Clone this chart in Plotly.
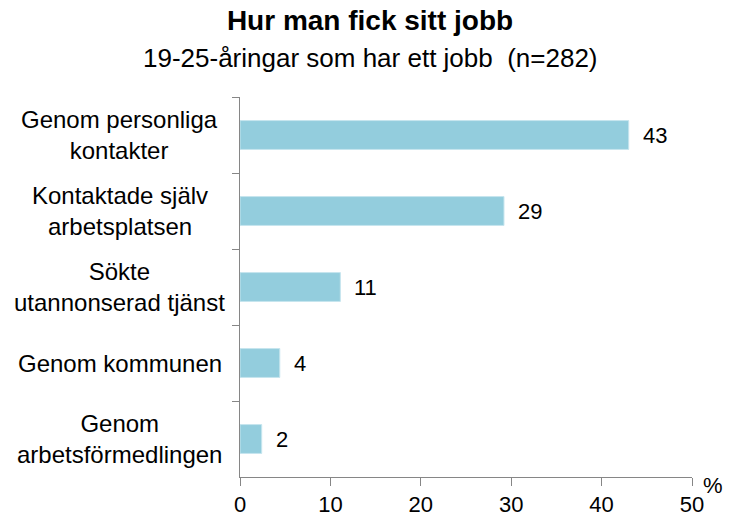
import plotly.graph_objects as go

categories = [
    "Genom personliga<br>kontakter",
    "Kontaktade själv<br>arbetsplatsen",
    "Sökte<br>utannonserad tjänst",
    "Genom kommunen",
    "Genom<br>arbetsförmedlingen",
]
values = [43, 29.2, 11.1, 4.4, 2.4]
value_labels = ["43", "29", "11", "4", "2"]
x_ticks = [0, 10, 20, 30, 40, 50]

title = "Hur man fick sitt jobb"
subtitle = "19-25-åringar som har ett jobb  (n=282)"

FONT = "Liberation Sans, Arial, sans-serif"
AXIS_COLOR = "#868686"
BAR_COLOR = "#93CDDD"

W, H = 736, 513
L, R, T, B = 240, 44, 97, 36
PW, PH = W - L - R, H - T - B

fig = go.Figure()
fig.add_trace(go.Bar(
    x=values,
    y=categories,
    orientation="h",
    marker=dict(color=BAR_COLOR, line=dict(color="#C6E5EE", width=1)),
    hoverinfo="x+y",
    showlegend=False,
))

annotations = []
for cat, v, lab in zip(categories, values, value_labels):
    annotations.append(dict(
        x=v, y=cat, xref="x", yref="y", text=lab, showarrow=False,
        xanchor="left", yanchor="middle", xshift=12,
        font=dict(family=FONT, size=22, color="#000000"),
    ))
    annotations.append(dict(
        x=(120 - L) / PW, y=cat, xref="paper", yref="y", text=cat, showarrow=False,
        xanchor="center", yanchor="middle", align="center",
        font=dict(family=FONT, size=24, color="#000000"),
    ))

annotations.append(dict(
    x=(713 - L) / PW, y=(H - B - 485) / PH, xref="paper", yref="paper", text="%",
    showarrow=False, xanchor="center", yanchor="middle",
    font=dict(family=FONT, size=22, color="#000000"),
))
annotations.append(dict(
    x=(370 - L) / PW, y=1 + (T - 58) / PH, xref="paper", yref="paper", text=subtitle,
    showarrow=False, xanchor="center", yanchor="middle",
    font=dict(family=FONT, size=26, color="#000000"),
))

fig.update_layout(
    width=W, height=H,
    margin=dict(l=L, r=R, t=T, b=B, pad=0, autoexpand=False),
    paper_bgcolor="white", plot_bgcolor="white",
    bargap=0.62,
    title=dict(
        text="<b>" + title + "</b>",
        x=370 / W, xref="container", xanchor="center",
        y=1 - 20 / H, yref="container", yanchor="middle",
        font=dict(family=FONT, size=28, color="#000000"),
    ),
    xaxis=dict(
        range=[0, 50], tickvals=x_ticks, ticktext=[str(t) for t in x_ticks],
        showgrid=False, zeroline=False, automargin=False,
        showline=True, linecolor=AXIS_COLOR, linewidth=1,
        ticks="outside", ticklen=8, tickcolor=AXIS_COLOR, tickwidth=1,
        tickfont=dict(family=FONT, size=22, color="#000000"),
        fixedrange=True,
    ),
    yaxis=dict(
        type="category", categoryorder="array", categoryarray=categories,
        autorange="reversed", automargin=False,
        showticklabels=False, showgrid=False, zeroline=False,
        showline=True, linecolor=AXIS_COLOR, linewidth=1,
        ticks="outside", ticklen=7, tickcolor=AXIS_COLOR, tickwidth=1,
        tickson="boundaries",
        fixedrange=True,
    ),
    annotations=annotations,
)

fig.write_html(
    "out.html",
    config={"displayModeBar": False},
    post_script="document.body.style.margin='0';document.body.style.overflow='hidden';",
)
